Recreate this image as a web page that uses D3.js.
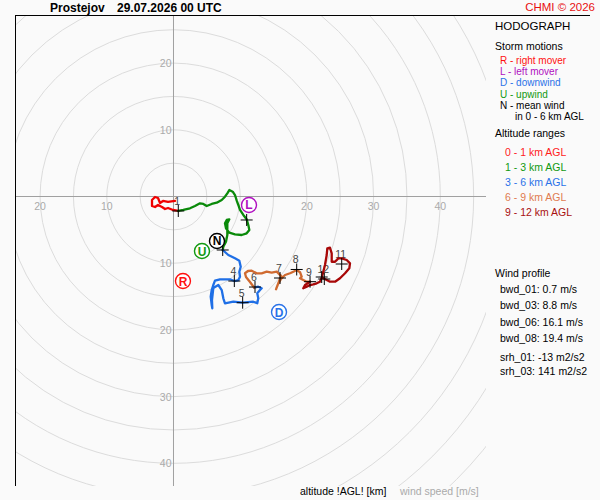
<!DOCTYPE html>
<html><head><meta charset="utf-8">
<script src="https://cdn.jsdelivr.net/npm/d3@7"></script>
<style>
html,body{margin:0;padding:0;background:#fafafa;}
svg{display:block;font-family:"Liberation Sans",Arial,sans-serif;}
</style></head>
<body>
<svg id="chart" width="600" height="500"></svg>
<script>
// ---------- DATA (wind components in m/s: u east, v north) ----------
const station = "Prostejov";
const runTime = "29.07.2026 00 UTC";
const copyright = "CHMI \u00a9 2026";

const trace0to1 = [[0.22,-0.67],[-0.82,-0.82],[-1.57,-0.67],[-2.02,-0.97],[-2.32,-0.22],[-2.77,-0.07],[-3.22,-0.52],[-3.22,-1.42],[-2.77,-1.57],[-2.32,-1.27],[-1.72,-1.57],[-1.27,-1.87],[-0.82,-1.72],[-0.07,-2.02],[0.72,-2.17]];
const trace1to3 = [[0.72,-2.17],[1.47,-2.02],[2.47,-1.77],[3.22,-1.42],[3.97,-1.02],[4.47,-1.12],[4.98,-1.42],[5.73,-1.12],[6.48,-0.93],[7.23,-0.52],[7.72,-0.03],[8.07,0.48],[8.37,0.97],[8.88,0.72],[9.22,0.22],[9.48,-0.63],[9.72,-1.27],[9.97,-2.02],[10.47,-2.77],[10.97,-3.42],[11.22,-4.27],[11.37,-5.02],[10.97,-5.52],[10.22,-5.77],[9.22,-5.67],[8.37,-5.43],[7.87,-4.77],[7.72,-4.02],[7.98,-3.52],[8.37,-3.42],[8.07,-4.02],[8.07,-4.77],[8.07,-5.77],[7.87,-6.78],[7.47,-7.53],[7.38,-8.02]];
const trace3to6 = [[7.38,-8.02],[8.22,-8.77],[9.22,-9.27],[9.87,-9.63],[10.08,-10.53],[9.87,-11.28],[9.97,-12.03],[9.72,-12.52],[9.12,-12.67],[8.47,-12.41],[7.72,-12.41],[6.97,-12.41],[6.22,-12.62],[5.97,-13.27],[5.73,-14.02],[5.58,-15.02],[5.73,-16.27],[5.82,-16.76],[5.77,-15.52],[5.97,-13.72],[6.72,-13.27],[7.23,-14.02],[7.47,-15.26],[7.72,-16.01],[8.97,-15.77],[10.37,-15.92],[11.96,-15.77],[12.56,-16.01],[12.71,-15.26],[12.56,-14.51],[12.97,-14.02],[13.22,-13.76],[12.71,-13.52],[12.11,-13.67]];
const trace6to9 = [[12.11,-13.67],[11.47,-12.82],[10.87,-12.07],[10.72,-11.51],[11.17,-11.17],[11.72,-11.12],[12.47,-11.51],[13.22,-11.51],[13.97,-11.27],[14.72,-11.42],[15.47,-11.27],[16.22,-12.02],[15.97,-12.26],[15.72,-13.01],[15.37,-13.91],[15.6,-13.27],[16.12,-12.37],[16.72,-11.77],[17.47,-11.51],[17.97,-11.27],[18.47,-11.02],[18.97,-11.36],[19.22,-12.02],[18.97,-12.26],[19.46,-12.52],[19.97,-12.77],[20.47,-12.77]];
const trace9to12 = [[20.47,-12.77],[19.72,-13.27],[19.46,-13.76],[19.97,-13.52],[20.47,-13.27],[20.96,-13.16],[21.47,-13.01],[21.96,-12.77],[22.22,-12.17],[22.46,-11.27],[22.71,-10.27],[22.97,-8.77],[23.06,-7.77],[23.46,-7.68],[23.72,-8.52],[23.72,-9.78],[24.22,-9.78],[24.71,-9.27],[25.22,-9.27],[25.97,-9.52],[26.46,-10.02],[26.36,-10.76],[25.72,-11.51],[24.96,-12.26],[24.22,-12.77],[23.46,-12.77],[22.97,-12.52],[22.46,-12.26]];

const kmLabels = ["1","2","3","4","5","6","7","8","9","10","11","12"];
const kmU = [0.72,10.97,7.38,9.12,10.37,12.22,15.97,18.47,20.47,22.22,25.22,22.61];
const kmV = [-2.17,-3.52,-8.02,-12.67,-15.92,-13.57,-12.22,-10.94,-12.77,-12.07,-10.12,-12.37];
// labels that are covered by storm markers / trace in the reference picture
const kmLabelsHidden = ["2","3","10"];

const stormLetters = ["R","L","D","U","N"];
const stormU = [1.42,11.32,15.82,4.27,6.52];
const stormV = [-12.67,-1.27,-17.32,-8.17,-6.67];

const ringSpeeds = [5,10,15,20,25,30,35,40,45,50,55,60,65];
const tickRight = [20,30,40];
const tickLeft = [10,20];
const tickUp = [10,20];
const tickDown = [10,20,30,40];

const stormLegend = ["R - right mover","L - left mover","D - downwind","U - upwind","N - mean wind"];
const altitudeRanges = ["0 - 1 km AGL","1 - 3 km AGL","3 - 6 km AGL","6 - 9 km AGL","9 - 12 km AGL"];
const profileLabels = ["bwd_01: 0.7 m/s","bwd_03: 8.8 m/s","bwd_06: 16.1 m/s","bwd_08: 19.4 m/s"];
const helicityLabels = ["srh_01: -13 m2/s2","srh_03: 141 m2/s2"];

// ---------- STYLE ----------
const traceColors = ["#f00000","#0a8a0a","#1f6fe6","#cf6a30","#a80808"];
const legendColors = ["#ff1a1a","#119911","#2a72e8","#e07a50","#a81010"];
const stormColors = ["#ff1010","#b010c0","#2a72e8","#119911","#000"];

const svg = d3.select("#chart");
const L = 15, R = 486, T = 15, B = 486;
const x = d3.scaleLinear().domain([-23.76, 46.85]).range([L, R]);
const y = d3.scaleLinear().domain([27.21, -43.40]).range([T, B]);
const rpx = s => x(s) - x(0);

svg.append("defs").append("clipPath").attr("id","plotclip")
  .append("rect").attr("x",L).attr("y",T).attr("width",R-L).attr("height",B-T);

const plot = svg.append("g").attr("clip-path","url(#plotclip)");

// rings
plot.selectAll("circle.ring").data(ringSpeeds).join("circle")
  .attr("class","ring").attr("cx",x(0)).attr("cy",y(0)).attr("r",d=>rpx(d))
  .attr("fill","none").attr("stroke","#dcdcdc").attr("stroke-width",1);

// axes
plot.append("line").attr("x1",L).attr("x2",R).attr("y1",y(0)).attr("y2",y(0)).attr("stroke","#a0a0a0");
plot.append("line").attr("x1",x(0)).attr("x2",x(0)).attr("y1",T).attr("y2",B).attr("stroke","#a0a0a0");

const tickStyle = s => s.attr("fill","#aaa").attr("font-size","10.5px");
tickStyle(plot.selectAll("text.tr").data(tickRight).join("text").attr("class","tr")
  .attr("x",d=>x(d)).attr("y",y(0)+13).attr("text-anchor","middle").text(d=>d));
tickStyle(plot.selectAll("text.tl").data(tickLeft).join("text").attr("class","tl")
  .attr("x",d=>x(-d)).attr("y",y(0)+13).attr("text-anchor","middle").text(d=>d));
tickStyle(plot.selectAll("text.tu").data(tickUp).join("text").attr("class","tu")
  .attr("x",x(0)-2).attr("y",d=>y(d)+4).attr("text-anchor","end").text(d=>d));
tickStyle(plot.selectAll("text.td").data(tickDown).join("text").attr("class","td")
  .attr("x",x(0)-2).attr("y",d=>y(-d)+4).attr("text-anchor","end").text(d=>d));

// km labels
const kmData = kmLabels.map((l,i)=>({l,u:kmU[i],v:kmV[i]}));
plot.selectAll("text.km").data(kmData.filter(d=>!kmLabelsHidden.includes(d.l))).join("text").attr("class","km")
  .attr("x",d=>x(d.u)-1).attr("y",d=>y(d.v)-6).attr("text-anchor","middle")
  .attr("fill","#444").attr("font-size","10.5px").text(d=>d.l);

// traces
const line = d3.line().x(d=>x(d[0])).y(d=>y(d[1]));
[trace0to1,trace1to3,trace3to6,trace6to9,trace9to12].forEach((t,i)=>{
  plot.append("path").datum(t).attr("d",line).attr("fill","none")
    .attr("stroke",traceColors[i]).attr("stroke-width",2.3)
    .attr("stroke-linejoin","round").attr("stroke-linecap","round");
});

// km crosses
plot.selectAll("g.cross").data(kmData).join("g").attr("class","cross")
  .each(function(d){
    const g = d3.select(this), cx = x(d.u), cy = y(d.v);
    g.append("line").attr("x1",cx-6).attr("x2",cx+6).attr("y1",cy).attr("y2",cy).attr("stroke","#000");
    g.append("line").attr("x1",cx).attr("x2",cx).attr("y1",cy-6).attr("y2",cy+6).attr("stroke","#000");
  });

// storm motion markers
const stormData = stormLetters.map((s,i)=>({s,u:stormU[i],v:stormV[i],c:stormColors[i]}));
const sm = plot.selectAll("g.storm").data(stormData).join("g").attr("class","storm");
sm.append("circle").attr("cx",d=>x(d.u)).attr("cy",d=>y(d.v)).attr("r",7.5)
  .attr("fill","#fff").attr("stroke",d=>d.c).attr("stroke-width",1.4);
sm.append("text").attr("x",d=>x(d.u)).attr("y",d=>y(d.v)+4.5).attr("text-anchor","middle")
  .attr("font-weight","bold").attr("font-size","12px").attr("fill",d=>d.c).text(d=>d.s);

// frame
svg.append("line").attr("x1",L).attr("x2",590).attr("y1",T+0.5).attr("y2",T+0.5).attr("stroke","#000");
svg.append("line").attr("x1",L+0.5).attr("x2",L+0.5).attr("y1",T).attr("y2",B).attr("stroke","#000");

// header
svg.append("text").attr("x",50).attr("y",12).attr("font-weight","bold").attr("font-size","12px").text(station);
svg.append("text").attr("x",117).attr("y",12).attr("font-weight","bold").attr("font-size","12px").text(runTime);
svg.append("text").attr("x",595).attr("y",11).attr("text-anchor","end").attr("font-size","11.5px").attr("fill","#e81010").text(copyright);

// right panel
const panel = svg.append("g").attr("font-size","10.5px");
panel.append("text").attr("x",495).attr("y",30).attr("font-size","11.5px").text("HODOGRAPH");
panel.append("text").attr("x",495).attr("y",50).text("Storm motions");
stormLegend.forEach((t,i)=>{
  panel.append("text").attr("x",500).attr("y",64+i*11.2).attr("font-size","10px").attr("fill",stormColors[i]).text(t);
});
panel.append("text").attr("x",515).attr("y",64+5*11.2).attr("font-size","10px").text("in 0 - 6 km AGL");
panel.append("text").attr("x",495).attr("y",137).text("Altitude ranges");
altitudeRanges.forEach((t,i)=>{
  panel.append("text").attr("x",505).attr("y",156+i*15).attr("fill",legendColors[i]).text(t);
});
panel.append("text").attr("x",495).attr("y",277).text("Wind profile");
profileLabels.forEach((t,i)=>{
  panel.append("text").attr("x",500).attr("y",293+i*16.3).text(t);
});
helicityLabels.forEach((t,i)=>{
  panel.append("text").attr("x",500).attr("y",361+i*14).text(t);
});

// bottom labels
svg.append("text").attr("x",300).attr("y",495).attr("font-size","10.5px").text("altitude !AGL! [km]");
svg.append("text").attr("x",400).attr("y",495).attr("font-size","10.5px").attr("fill","#aaa").text("wind speed [m/s]");
</script>
</body></html>
